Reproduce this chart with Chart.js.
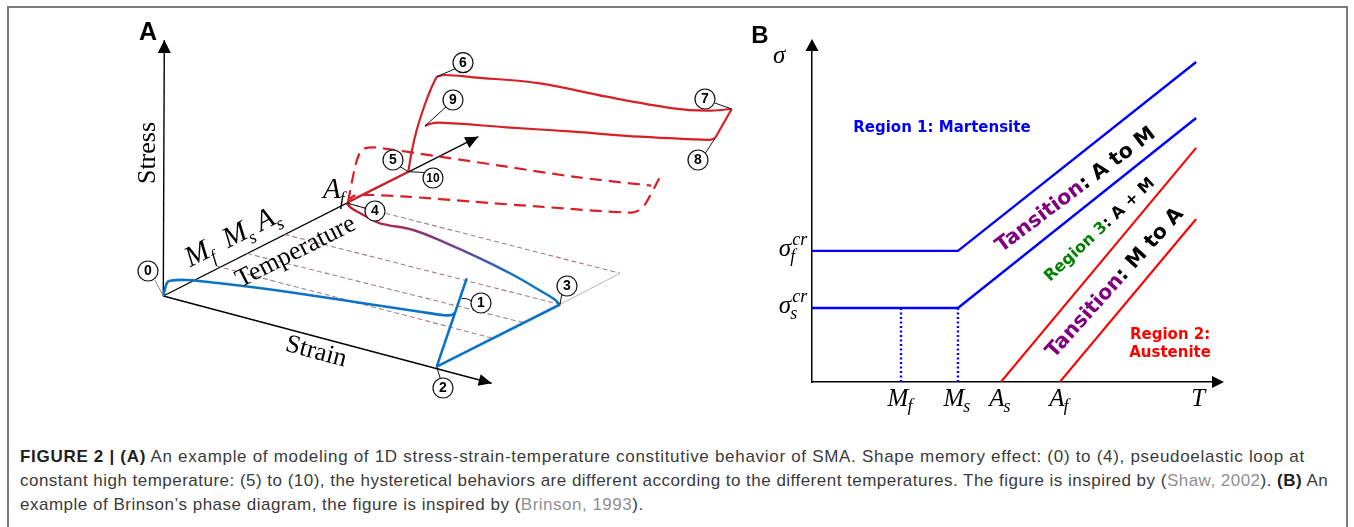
<!DOCTYPE html>
<html>
<head>
<meta charset="utf-8">
<script src="https://cdn.jsdelivr.net/npm/chart.js@4.4.1/dist/chart.umd.min.js"></script>
<style>
  html, body { margin: 0; padding: 0; background: #fff; width: 1354px; height: 527px; overflow: hidden; }
  #frame { position: absolute; left: 7px; top: 6px; width: 1341px; height: 600px; border: 2px solid #7a7a7a; box-sizing: border-box; }
  #wrapA { position: absolute; left: 100px; top: 10px; width: 640px; height: 400px; }
  #wrapB { position: absolute; left: 740px; top: 15px; width: 510px; height: 400px; }
  #caption { position: absolute; left: 20px; top: 445px; font-family: "Liberation Sans", Arial, sans-serif;
             font-size: 17px; letter-spacing: 0.5px; line-height: 24px; color: #3a3a3a; white-space: nowrap; }
  #caption .l1 { letter-spacing: 0.7px; }
  #caption .l2 { letter-spacing: 0.48px; }
  #caption b { color: #1e1e1e; }
  #caption .ref { color: #8f8f8f; }
</style>
</head>
<body>
<div id="frame"></div>
<div id="wrapA"><canvas id="panelA" width="640" height="400"></canvas></div>
<div id="wrapB"><canvas id="panelB" width="510" height="400"></canvas></div>
<div id="caption">
  <div class="l1"><b>FIGURE 2 | (A)</b> An example of modeling of 1D stress-strain-temperature constitutive behavior of SMA. Shape memory effect: (0) to (4), pseudoelastic loop at</div>
  <div class="l2">constant high temperature: (5) to (10), the hysteretical behaviors are different according to the different temperatures. The figure is inspired by (<span class="ref">Shaw, 2002</span>). <b>(B)</b> An</div>
  <div>example of Brinson’s phase diagram, the figure is inspired by (<span class="ref">Brinson, 1993</span>).</div>
</div>

<script>
// ===================== Panel A data (sketch plane units, origin at the axes' corner) =====================
const axisStress = [[0, 0], [1, 256]];
const axisStrain = [[0, 0], [328.4, -87.3]];
const axisTemp   = [[0, 0], [315, 159.3]];

// shape memory effect path (0) -> (1) -> (2) -> (3) -> (4)
const smeLoad     = [[0, 0], [3.4, 12.7], [6.7, 15.3], [23.4, 16], [56.7, 12.7], [123.4, 4.3], [190, -5.7], [256.7, -15.7], [281, -19.2], [288.5, -19], [292, -16.5]];
const smeUnload   = [[303.4, 17.7], [273.4, -70.7]];
const smeHeat     = [[273.4, -70.7], [396.7, -8.5]];
const smeRecover  = [[396.7, -8.5], [390, -2.5], [376.7, 5.5], [350, 21], [316.7, 37.7], [283.4, 52.7], [250, 66], [216.7, 72.7], [203.4, 79.3], [188.4, 87.7], [183.4, 92.7]];
const heatTrace   = [[396.7, -8.5], [456.7, 22.7]];

// isotherm guides from the temperature axis (Af, As, Ms, Mf)
const isoAf = [[183.4, 92.7], [456.7, 22.7]];
const isoAs = [[121.2, 61.6], [396.7, -8.5]];
const isoMs = [[83.7, 42.5], [360.2, -26.6]];
const isoMf = [[53, 30], [329.4, -42.2]];

// pseudoelastic loop at high temperature (5) -> (6) -> (7) -> (8) -> (9) -> (10)
const peHeatUp   = [[184.7, 94], [245, 124.3]];
const peLoad     = [[245, 124.3], [248.5, 145], [253.4, 166], [261, 190], [268, 208], [273.4, 219.3]];
const peUpper    = [[273.4, 219.3], [282, 221], [310, 218.7], [376.7, 212.7], [443.4, 199.3], [510, 187.7], [543.4, 185.3], [568.4, 187]];
const peUnload   = [[568.4, 187], [551.7, 157.7]];
const peLower    = [[551.7, 157.7], [546, 156.2], [476.7, 159.3], [410, 164.3], [343.4, 168.7], [276.7, 173.3], [266, 172], [261.7, 170]];

// loop at Af (dashed)
const afUpper = [[184.7, 94], [187, 106], [192, 130], [195.5, 141], [199, 146.5], [205, 148.3], [213, 148.5], [276.7, 139.3], [343.4, 129.3], [410, 119.3], [488, 110.3]];
const afRight = [[496, 117.7], [482, 92], [476, 86], [468, 83.3], [376.7, 89.3], [310, 94.3], [243.4, 99.3], [193.4, 101], [186, 97]];

// numbered state markers
const tagLabels = ['0', '1', '2', '3', '4', '5', '6', '7', '8', '9', '10'];
const tagX = [-15.3, 317.7, 279.7, 403.7, 211.7, 229.7, 299.7, 541.7, 534.7, 289.7, 269.7];
const tagY = [25, -7, -92, 10, 85, 136, 233.3, 197, 136, 196, 118];
const tagLeaders = [
  [[-8.5, 16], [0, 0]],
  [[298.4, -2.3], [303.5, -2.8], [308.5, -5]],
  [[273.4, -70.7], [277, -82.5]],
  [[396.7, -8.5], [398.5, 2]],
  [[183.7, 93], [203, 87.5]],
  [[245, 124.3], [236.5, 129.5]],
  [[245, 124.3], [262, 123.5]],
  [[273.4, 219.3], [292.5, 227.5]],
  [[261.7, 170], [283, 189.5]],
  [[568.4, 187], [551.5, 193]],
  [[551.7, 157.7], [541.5, 142]]
];

// ===================== Panel B data (temperature T vs stress σ) =====================
const tempLevels     = [2.22, 3.64, 4.71, 6.18];               // Mf, Ms, As, Af
const tempLevelNames = [['M', 'f'], ['M', 's'], ['A', 's'], ['A', 'f']];
const stressLevels     = [2.23, 3.95];                         // σs^cr, σf^cr
const stressLevelNames = [['σ', 's', 'cr'], ['σ', 'f', 'cr']];
const tEnd = 9.58;
const finishAtoM = [[0, 3.95], [3.64, 3.95], [tEnd, 9.64]];
const startAtoM  = [[0, 2.23], [3.64, 2.23], [tEnd, 7.95]];
const startMtoA  = [[4.71, 0], [tEnd, 7.05]];
const finishMtoA = [[6.18, 0], [tEnd, 4.91]];
const dropMf = [[2.22, 0], [2.22, 2.23]];
const dropMs = [[3.64, 0], [3.64, 2.23]];

// ===================== helpers =====================
const BLUE_A = '#0c73c6', RED_A = '#d61f27';
const SERIF = '"Liberation Serif", "Times New Roman", serif';
const SANS = '"Liberation Sans", Arial, sans-serif';
const BOLDSANS = '"DejaVu Sans", Verdana, sans-serif';

const pts = arr => arr.map(([x, y]) => ({ x, y }));
function line(arr, color, width, extra) {
  return Object.assign({ data: pts(arr), showLine: true, borderColor: color, borderWidth: width,
    pointRadius: 0, pointHoverRadius: 0, fill: false, tension: 0, order: 5 }, extra || {});
}
function px(chart, p) { return [chart.scales.x.getPixelForValue(p[0]), chart.scales.y.getPixelForValue(p[1])]; }
function arrowHead(ctx, from, tip, len, half) {
  const a = Math.atan2(tip[1] - from[1], tip[0] - from[0]);
  const c = Math.cos(a), s = Math.sin(a);
  ctx.beginPath();
  ctx.moveTo(tip[0], tip[1]);
  ctx.lineTo(tip[0] - len * c + half * s, tip[1] - len * s - half * c);
  ctx.lineTo(tip[0] - len * c - half * s, tip[1] - len * s + half * c);
  ctx.closePath();
  ctx.fill();
}
// italic symbol with optional subscript / superscript; returns advance width
function mathSym(ctx, x, y, base, sub, sup, size, ssize, draw) {
  ctx.font = `italic ${size}px ${SERIF}`;
  const wb = ctx.measureText(base).width;
  ctx.font = `italic ${ssize}px ${SERIF}`;
  const wsub = sub ? ctx.measureText(sub).width : 0;
  const wsup = sup ? ctx.measureText(sup).width : 0;
  const w = wb + Math.max(wsub, wsup) + 1;
  if (draw !== false) {
    ctx.textAlign = 'left'; ctx.textBaseline = 'alphabetic';
    ctx.font = `italic ${size}px ${SERIF}`;
    ctx.fillText(base, x, y);
    ctx.font = `italic ${ssize}px ${SERIF}`;
    if (sup) ctx.fillText(sup, x + wb + 1, y - size * 0.42);
    if (sub) ctx.fillText(sub, x + wb - 1, y + size * 0.24);
  }
  return w;
}
function rotatedText(ctx, x, y, angleRad, parts, font) {
  ctx.save();
  ctx.translate(x, y);
  ctx.rotate(angleRad);
  ctx.font = font;
  ctx.textBaseline = 'middle';
  ctx.textAlign = 'left';
  const total = parts.reduce((s, p) => s + ctx.measureText(p[0]).width, 0);
  let cx = -total / 2;
  for (const [t, col] of parts) {
    ctx.fillStyle = col;
    ctx.fillText(t, cx, 0);
    cx += ctx.measureText(t).width;
  }
  ctx.restore();
}

// ===================== Panel A =====================
const sketchDecor = {
  id: 'sketchDecor',
  afterDatasetsDraw(chart) {
    const ctx = chart.ctx;
    ctx.save();
    ctx.fillStyle = '#000';
    // axis arrowheads
    arrowHead(ctx, px(chart, [1, 200]), px(chart, axisStress[1]), 13, 6.5);
    arrowHead(ctx, px(chart, axisStrain[0]), px(chart, axisStrain[1]), 13, 6);
    arrowHead(ctx, px(chart, axisTemp[0]), px(chart, axisTemp[1]), 13, 6);

    // panel letter
    let p = px(chart, [-15.3, 263]);
    ctx.font = `bold 25px ${SANS}`; ctx.textAlign = 'center'; ctx.textBaseline = 'middle';
    ctx.fillText('A', p[0], p[1]);

    // axis names
    const o = px(chart, axisStrain[0]);
    const sEnd = px(chart, axisStrain[1]), tEndP = px(chart, axisTemp[1]);
    const angStrain = Math.atan2(sEnd[1] - o[1], sEnd[0] - o[0]);
    const angTemp = Math.atan2(tEndP[1] - o[1], tEndP[0] - o[0]);
    const f26 = `26px ${SERIF}`;
    p = px(chart, [-15.3, 143]);
    rotatedText(ctx, p[0], p[1], -Math.PI / 2, [['Stress', '#000']], f26);
    p = px(chart, [152.7, -56]);
    rotatedText(ctx, p[0], p[1], angStrain, [['Strain', '#000']], f26);
    p = px(chart, [132.5, 44]);
    rotatedText(ctx, p[0], p[1], angTemp, [['Temperature', '#000']], f26);

    // transformation temperatures along the temperature axis
    p = px(chart, [27, 28.7]);
    ctx.save();
    ctx.translate(p[0], p[1]);
    ctx.rotate(angTemp);
    ctx.fillStyle = '#000';
    let x = 0;
    x += mathSym(ctx, x, 0, 'M', 'f', null, 29, 18) + 12;
    x += mathSym(ctx, x, 0, 'M', 's', null, 29, 18) + 5;
    mathSym(ctx, x, 0, 'A', 's', null, 29, 18);
    ctx.restore();
    p = px(chart, [159.7, 98]);
    mathSym(ctx, p[0], p[1], 'A', 'f', null, 29, 18);

    // numbers inside the state markers
    ctx.fillStyle = '#000';
    ctx.textAlign = 'center'; ctx.textBaseline = 'middle';
    tagLabels.forEach((t, i) => {
      const q = px(chart, [tagX[i], tagY[i]]);
      ctx.font = `bold ${t.length > 1 ? 12 : 14}px ${SANS}`;
      ctx.fillText(t, q[0], q[1] + 0.5);
    });
    ctx.restore();
  }
};

const recoverGradient = (c) => {
  const ch = c.chart;
  if (!ch.chartArea) return BLUE_A;
  const a = px(ch, smeRecover[smeRecover.length - 1]);
  const b = px(ch, smeRecover[0]);
  const g = ch.ctx.createLinearGradient(a[0], a[1], b[0], b[1]);
  g.addColorStop(0, '#c4212f');
  g.addColorStop(0.45, '#7a3c86');
  g.addColorStop(0.8, BLUE_A);
  g.addColorStop(1, BLUE_A);
  return g;
};

const leaderSets = tagLeaders.map((l, i) => line(l, i === 0 ? '#8a8a8a' : '#111', 1, { order: 1 }));

new Chart(document.getElementById('panelA'), {
  type: 'scatter',
  data: {
    datasets: [
      { data: tagX.map((x, i) => ({ x, y: tagY[i] })), showLine: false, pointRadius: 10, pointHoverRadius: 10,
        pointBackgroundColor: '#fff', pointBorderColor: '#111', pointBorderWidth: 1.2, order: 0 },
      ...leaderSets,
      line(peHeatUp, RED_A, 2.2, { order: 2 }),
      line(peLoad, RED_A, 2.2, { tension: 0.3, order: 2 }),
      line(peUpper, RED_A, 2.2, { tension: 0.35, order: 2 }),
      line(peUnload, RED_A, 2.2, { order: 2 }),
      line(peLower, RED_A, 2.2, { tension: 0.35, order: 2 }),
      line(afUpper, RED_A, 2.2, { tension: 0.3, borderDash: [12, 7], order: 3 }),
      line(afRight, RED_A, 2.2, { tension: 0.3, borderDash: [12, 7], order: 3 }),
      line(smeLoad, BLUE_A, 2.6, { tension: 0.35, order: 2 }),
      line(smeUnload, BLUE_A, 2.6, { order: 2 }),
      line(smeHeat, BLUE_A, 2.6, { order: 2 }),
      line(smeRecover, BLUE_A, 2.4, { tension: 0.35, order: 2, borderColor: recoverGradient }),
      line(heatTrace, '#b5b5b5', 1, { order: 4 }),
      line(isoAf, 'rgba(150,105,105,0.85)', 1.1, { borderDash: [5, 3], order: 4 }),
      line(isoAs, 'rgba(150,105,105,0.85)', 1.1, { borderDash: [5, 3], order: 4 }),
      line(isoMs, 'rgba(150,105,105,0.85)', 1.1, { borderDash: [5, 3], order: 4 }),
      line(isoMf, 'rgba(150,105,105,0.85)', 1.1, { borderDash: [5, 3], order: 4 }),
      line(axisStress, '#000', 1.4, { order: 6 }),
      line(axisStrain, '#000', 1.4, { order: 6 }),
      line(axisTemp, '#000', 1.4, { order: 6 })
    ]
  },
  options: {
    responsive: false, animation: false, events: [],
    layout: { padding: 0, autoPadding: false },
    plugins: { legend: { display: false }, tooltip: { enabled: false } },
    scales: {
      x: { type: 'linear', display: false, min: -63.3, max: 576.7 },
      y: { type: 'linear', display: false, min: -114, max: 286 }
    }
  },
  plugins: [sketchDecor]
});

// ===================== Panel B =====================
const phaseDecor = {
  id: 'phaseDecor',
  afterDraw(chart) {
    const ctx = chart.ctx, area = chart.chartArea;
    const xs = chart.scales.x, ys = chart.scales.y;
    ctx.save();
    ctx.fillStyle = '#000';
    arrowHead(ctx, [area.left, area.top + 20], [area.left, area.top - 11], 12, 6.5);
    arrowHead(ctx, [area.right - 20, area.bottom], [area.right + 11, area.bottom], 12, 6);

    ctx.font = `bold 24px ${SANS}`; ctx.textAlign = 'center'; ctx.textBaseline = 'middle';
    ctx.fillText('B', xs.getPixelForValue(-1.3), ys.getPixelForValue(10.4));

    // axis names
    ctx.font = `italic 25px ${SERIF}`; ctx.textAlign = 'center'; ctx.textBaseline = 'alphabetic';
    ctx.fillText('σ', xs.getPixelForValue(-0.82), ys.getPixelForValue(9.6));
    ctx.fillText('T', xs.getPixelForValue(9.63), ys.getPixelForValue(-0.72));

    // stress level labels
    stressLevels.forEach((v, i) => {
      const [b, sb, sp] = stressLevelNames[i];
      const w = mathSym(ctx, 0, 0, b, sb, sp, 25, 18, false);
      mathSym(ctx, xs.getPixelForValue(-0.12) - w, ys.getPixelForValue(v) + 5, b, sb, sp, 25, 18);
    });
    // temperature level labels
    tempLevels.forEach((v, i) => {
      const [b, sb] = tempLevelNames[i];
      const w = mathSym(ctx, 0, 0, b, sb, null, 25, 18, false);
      mathSym(ctx, xs.getPixelForValue(v) - w / 2, ys.getPixelForValue(-0.72), b, sb, null, 25, 18);
    });

    // region names
    const c = (t, s) => [xs.getPixelForValue(t), ys.getPixelForValue(s)];
    let p = c(3.24, 7.65);
    rotatedText(ctx, p[0], p[1], 0, [['Region 1: Martensite', '#0000ff']], `bold 15px ${BOLDSANS}`);
    p = c(8.93, 1.42);
    rotatedText(ctx, p[0], p[1], 0, [['Region 2:', '#ff0000']], `bold 15px ${BOLDSANS}`);
    p = c(8.93, 0.87);
    rotatedText(ctx, p[0], p[1], 0, [['Austenite', '#ff0000']], `bold 15px ${BOLDSANS}`);
    p = c(6.58, 5.78);
    rotatedText(ctx, p[0], p[1], -37 * Math.PI / 180, [['Tansition', '#800080'], [': A to M', '#000']], `bold 20.5px ${BOLDSANS}`);
    p = c(7.18, 4.58);
    rotatedText(ctx, p[0], p[1], -43 * Math.PI / 180, [['Region 3', '#008000'], [': A + M', '#000']], `bold 16px ${BOLDSANS}`);
    p = c(7.56, 2.98);
    rotatedText(ctx, p[0], p[1], -48 * Math.PI / 180, [['Tansition', '#800080'], [': M to A', '#000']], `bold 20.5px ${BOLDSANS}`);
    ctx.restore();
  }
};

new Chart(document.getElementById('panelB'), {
  type: 'scatter',
  data: {
    datasets: [
      line(finishAtoM, '#0000ff', 2.4),
      line(startAtoM, '#0000ff', 2.4),
      line(startMtoA, '#ff0000', 2.1),
      line(finishMtoA, '#ff0000', 2.1),
      line(dropMf, '#0000ff', 2.4, { borderDash: [2, 2.5] }),
      line(dropMs, '#0000ff', 2.4, { borderDash: [2, 2.5] })
    ]
  },
  options: {
    responsive: false, animation: false, events: [],
    layout: { padding: { left: 72, right: 37, top: 35, bottom: 33 }, autoPadding: false },
    plugins: { legend: { display: false }, tooltip: { enabled: false } },
    scales: {
      x: { type: 'linear', min: 0, max: 10,
           grid: { display: false, drawTicks: false }, ticks: { display: false },
           border: { display: true, color: '#000', width: 1.5 } },
      y: { type: 'linear', min: 0, max: 10,
           grid: { display: false, drawTicks: false }, ticks: { display: false },
           border: { display: true, color: '#000', width: 1.5 } }
    }
  },
  plugins: [phaseDecor]
});
</script>
</body>
</html>
